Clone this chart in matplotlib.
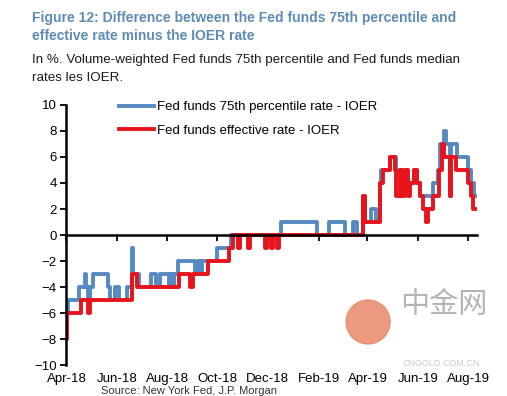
import numpy as np
import pandas as pd
import matplotlib
matplotlib.use("Agg")
import matplotlib.pyplot as plt
from matplotlib.patches import Ellipse

plt.rcParams['font.family'] = ['Liberation Sans', 'Noto Sans CJK SC', 'DejaVu Sans']

## data (change points, value held until next date)
p75_dates = ['2018-04-01', '2018-04-03', '2018-04-16', '2018-04-23', '2018-04-25', '2018-04-27',
             '2018-04-30', '2018-05-03', '2018-05-21', '2018-05-24', '2018-05-30', '2018-06-04',
             '2018-06-13', '2018-06-19', '2018-06-21', '2018-06-28', '2018-07-12', '2018-07-19',
             '2018-07-24', '2018-08-03', '2018-08-06', '2018-08-09', '2018-08-10', '2018-08-14',
             '2018-09-04', '2018-09-07', '2018-09-10', '2018-09-13', '2018-10-01', '2018-10-18',
             '2018-12-17', '2019-01-30', '2019-02-13', '2019-03-05', '2019-03-14', '2019-03-19',
             '2019-03-27', '2019-03-29', '2019-04-05', '2019-04-11', '2019-04-16', '2019-04-18',
             '2019-04-29', '2019-05-06', '2019-05-13', '2019-05-17', '2019-05-20', '2019-05-28',
             '2019-05-31', '2019-06-04', '2019-06-20', '2019-06-25', '2019-06-28', '2019-07-03',
             '2019-07-05', '2019-07-10', '2019-07-11', '2019-07-19', '2019-08-01', '2019-08-05',
             '2019-08-08', '2019-08-12']
p75_vals = [-6, -5, -4, -3, -4, -5,
            -4, -3, -4, -5, -4, -5,
            -4, -1, -3, -4, -3, -4,
            -3, -4, -3, -4, -3, -2,
            -3, -2, -3, -2, -1, 0,
            1, 0, 1, 0, 1, 0,
            3, 1, 2, 1, 4, 5,
            6, 5, 4, 5, 4, 5,
            4, 3, 4, 5, 7, 8,
            7, 3, 7, 6, 5, 4,
            3, 3]

eff_dates = ['2018-04-01', '2018-04-02', '2018-04-19', '2018-04-27', '2018-04-30', '2018-06-19',
             '2018-06-25', '2018-08-15', '2018-08-29', '2018-09-01', '2018-09-20', '2018-10-15',
             '2018-10-20', '2018-10-26', '2018-10-29', '2018-11-07', '2018-11-10', '2018-11-28',
             '2018-11-30', '2018-12-05', '2018-12-08', '2018-12-12', '2018-12-15', '2019-03-27',
             '2019-03-29', '2019-04-16', '2019-04-20', '2019-04-29', '2019-05-04', '2019-05-06',
             '2019-05-10', '2019-05-13', '2019-05-17', '2019-05-20', '2019-05-23', '2019-05-28',
             '2019-05-31', '2019-06-04', '2019-06-07', '2019-06-11', '2019-06-13', '2019-06-20',
             '2019-06-27', '2019-07-01', '2019-07-03', '2019-07-10', '2019-07-11', '2019-07-17',
             '2019-08-01', '2019-08-05', '2019-08-07', '2019-08-12']
eff_vals = [-8, -6, -5, -6, -5, -3,
            -4, -3, -4, -3, -2, -1,
            0, -1, 0, -1, 0, -1,
            0, -1, 0, -1, 0, 3,
            1, 4, 5, 6, 5, 3,
            5, 3, 5, 3, 4, 5,
            4, 3, 2, 1, 2, 3,
            5, 7, 6, 3, 6, 5,
            4, 3, 2, 2]

tick_dates = ['2018-04-01', '2018-06-01', '2018-08-01', '2018-10-01', '2018-12-01',
              '2019-02-01', '2019-04-01', '2019-06-01', '2019-08-01']
tick_labels = ['Apr-18', 'Jun-18', 'Aug-18', 'Oct-18', 'Dec-18', 'Feb-19', 'Apr-19', 'Jun-19', 'Aug-19']

blue = '#5589c2'
red = '#e8141c'

fig = plt.figure(figsize=(5.07, 3.96), dpi=100)
ax = fig.add_axes([0.131, 0.078, 0.810, 0.657])

ax.plot(pd.to_datetime(p75_dates), p75_vals, drawstyle='steps-post', color=blue, lw=2.8,
        label='Fed funds 75th percentile rate - IOER')
ax.plot(pd.to_datetime(eff_dates), eff_vals, drawstyle='steps-post', color=red, lw=2.8,
        label='Fed funds effective rate - IOER')

ax.set_xlim(pd.Timestamp('2018-04-01'), pd.Timestamp('2019-08-12'))
ax.set_ylim(-10, 10)
ax.set_yticks(np.arange(-10, 11, 2))
ax.set_xticks(pd.to_datetime(tick_dates))
ax.set_xticklabels(tick_labels)

for s in ['top', 'right']:
    ax.spines[s].set_visible(False)
ax.spines['left'].set_linewidth(1.8)
ax.spines['bottom'].set_position(('data', 0))
ax.spines['bottom'].set_linewidth(1.8)
ax.tick_params(axis='y', length=4, width=1.3, labelsize=9.5, pad=3)
ax.tick_params(axis='x', length=4, width=1.3, labelsize=9.5, pad=95)

leg = ax.legend(loc='upper left', bbox_to_anchor=(0.1, 1.06), frameon=False, fontsize=9.5,
                handlelength=2.6, handletextpad=0.25, labelspacing=0.85)

fig.text(0.063, 0.932, 'Figure 12: Difference between the Fed funds 75th percentile and\neffective rate minus the IOER rate',
         color='#5e8bb5', fontsize=10.0, fontweight='bold', va='center', linespacing=1.3)
fig.text(0.063, 0.826, 'In %. Volume-weighted Fed funds 75th percentile and Fed funds median\nrates les IOER.',
         color='#1a1a1a', fontsize=9.6, va='center', linespacing=1.6)
fig.text(0.2, 0.012, 'Source: New York Fed, J.P. Morgan', fontsize=8, color='#333333', va='center')

# watermark
fig.add_artist(Ellipse((0.726, 0.187), 44 / 507, 44 / 396, transform=fig.transFigure,
                       color='#e8896a', alpha=0.85))
fig.text(0.79, 0.23, '中金网', fontsize=21, color='#b5b5b5', va='center')
fig.text(0.793, 0.082, 'CNGOLD.COM.CN', fontsize=6.5, color='#cccccc', va='center')

fig.savefig('out.png', dpi=100)
